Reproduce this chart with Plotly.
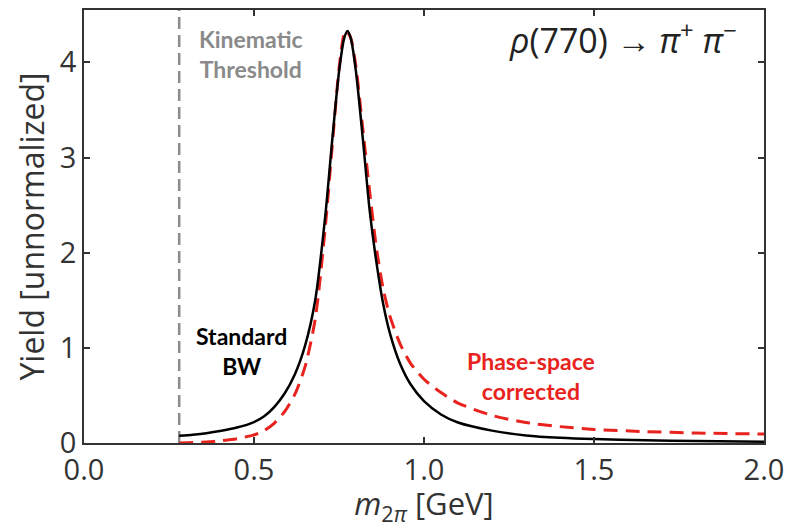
import plotly.graph_objects as go

# Invariant mass grid [GeV] and line-shape yields
mass_bw = [0.28, 0.32, 0.36, 0.40, 0.45, 0.50, 0.53, 0.56, 0.59, 0.62, 0.65, 0.68,
           0.71, 0.73, 0.75, 0.765, 0.775, 0.785, 0.80, 0.82, 0.84, 0.86, 0.88, 0.90,
           0.93, 0.96, 1.00, 1.05, 1.10, 1.20, 1.30, 1.40, 1.50, 1.65, 1.80, 2.00]
yield_bw = [0.075, 0.087, 0.103, 0.125, 0.162, 0.22, 0.28, 0.38, 0.52, 0.72, 1.02, 1.50,
            2.40, 3.18, 3.90, 4.25, 4.33, 4.25, 3.90, 3.20, 2.45, 1.90, 1.46, 1.15,
            0.83, 0.62, 0.44, 0.30, 0.215, 0.13, 0.080, 0.055, 0.041, 0.029, 0.020, 0.014]

mass_ps = [0.28, 0.32, 0.36, 0.40, 0.45, 0.50, 0.53, 0.56, 0.59, 0.62, 0.65, 0.68,
           0.71, 0.73, 0.75, 0.765, 0.772, 0.785, 0.80, 0.82, 0.84, 0.86, 0.88, 0.90,
           0.93, 0.96, 1.00, 1.05, 1.10, 1.20, 1.30, 1.40, 1.50, 1.65, 1.80, 2.00]
yield_ps = [0.0, 0.004, 0.011, 0.022, 0.045, 0.085, 0.13, 0.21, 0.33, 0.51, 0.80, 1.30,
            2.28, 3.12, 3.93, 4.30, 4.33, 4.25, 3.95, 3.30, 2.65, 2.05, 1.62, 1.33,
            1.04, 0.84, 0.67, 0.53, 0.42, 0.29, 0.215, 0.172, 0.143, 0.120, 0.105, 0.094]

threshold = 0.28  # 2 m_pi
x_ticks = [0.0, 0.5, 1.0, 1.5, 2.0]
y_ticks = [0, 1, 2, 3, 4]

FONT = "Open Sans"
BOLD = "Lato"
AXIS_GREY = "#333333"

fig = go.Figure()

fig.add_trace(go.Scatter(
    x=[threshold, threshold], y=[0, 4.55], mode="lines",
    line=dict(color="#8a8a8a", width=2.5, dash="12px,6px"), showlegend=False))

fig.add_trace(go.Scatter(
    x=mass_ps, y=yield_ps, mode="lines",
    line=dict(color="#e8221c", width=3, dash="14px,8px", shape="spline", smoothing=0.7),
    showlegend=False))

fig.add_trace(go.Scatter(
    x=mass_bw, y=yield_bw, mode="lines",
    line=dict(color="black", width=2.5, shape="spline", smoothing=0.7),
    showlegend=False))

axis_common = dict(
    showline=True, linecolor=AXIS_GREY, linewidth=1.5, mirror="ticks",
    ticks="inside", ticklen=6, tickwidth=1.5, tickcolor=AXIS_GREY,
    showgrid=False, zeroline=False,
    tickfont=dict(family=FONT, size=29, color=AXIS_GREY),
)

fig.update_xaxes(range=[0, 2.0], tickvals=x_ticks,
                 ticktext=[f"{v:.1f}" for v in x_ticks],
                 title=dict(text="<i>m</i><sub>2<i>π</i></sub> [GeV]",
                            font=dict(family=FONT, size=31, color=AXIS_GREY),
                            standoff=7),
                 **axis_common)
fig.update_yaxes(range=[0, 4.55], tickvals=y_ticks,
                 title=dict(text="Yield [unnormalized]",
                            font=dict(family=FONT, size=32, color=AXIS_GREY),
                            standoff=6),
                 **axis_common)

fig.add_annotation(x=0.492, y=4.09, xref="x", yref="y", showarrow=False,
                   text="Kinematic<br>Threshold", align="center",
                   font=dict(family=BOLD, size=23, color="#8a8a8a", weight="bold"))
fig.add_annotation(x=0.463, y=0.97, xref="x", yref="y", showarrow=False,
                   text="Standard<br>BW", align="center",
                   font=dict(family=BOLD, size=23, color="black", weight="bold"))
fig.add_annotation(x=1.315, y=0.70, xref="x", yref="y", showarrow=False,
                   text="Phase-space<br>corrected", align="center",
                   font=dict(family=BOLD, size=23, color="#e8221c", weight="bold"))
fig.add_annotation(x=1.927, y=4.25, xref="x", yref="y", showarrow=False,
                   xanchor="right",
                   text="<i>ρ</i>(770) → <i>π</i><sup>+</sup> <i>π</i><sup>−</sup>",
                   font=dict(family=FONT, size=34, color="#222222"))

fig.update_layout(
    width=792, height=528,
    margin=dict(l=84, r=25, t=8, b=85),
    plot_bgcolor="white", paper_bgcolor="white",
)

fig.write_html("out.html")
